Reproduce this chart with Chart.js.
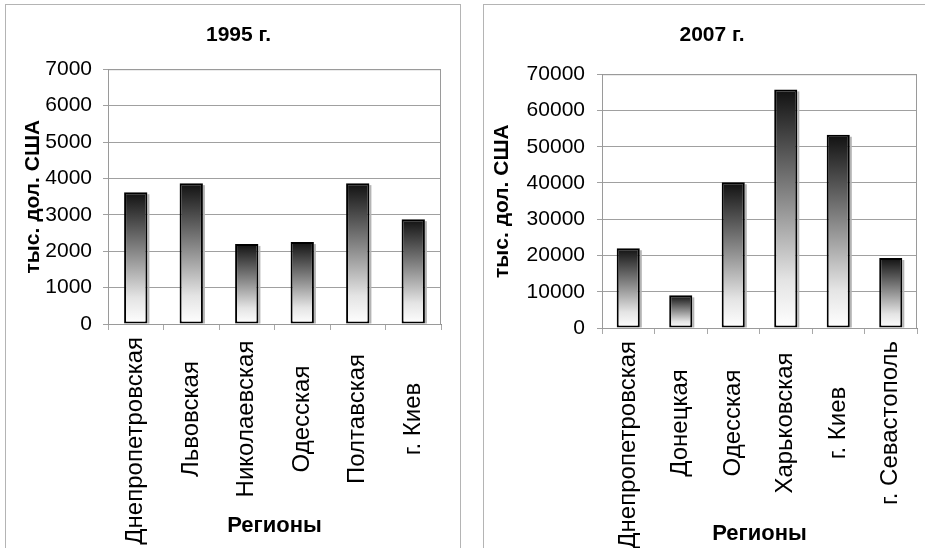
<!DOCTYPE html>
<html>
<head>
<meta charset="utf-8">
<script src="https://cdn.jsdelivr.net/npm/chart.js@4.4.0/dist/chart.umd.min.js"></script>
<style>
  html, body { margin: 0; padding: 0; background: #fff; width: 925px; height: 548px; overflow: hidden; }
  .panel { position: absolute; border: 1px solid #b4b4b4; box-sizing: border-box; background: #fff; }
  #p1 { left: 5px; top: 4px; width: 456px; height: 545px; }
  #p2 { left: 483px; top: 4px; width: 458px; height: 545px; }
</style>
</head>
<body>
<div class="panel" id="p1"><canvas id="chart1995"></canvas></div>
<div class="panel" id="p2"><canvas id="chart2007"></canvas></div>
<script>
// Data
const regions1995 = ['Днепропетровская', 'Львовская', 'Николаевская', 'Одесская', 'Полтавская', 'г. Киев'];
const values1995 = [3620, 3870, 2200, 2250, 3870, 2880];

const regions2007 = ['Днепропетровская', 'Донецкая', 'Одесская', 'Харьковская', 'г. Киев', 'г. Севастополь'];
const values2007 = [22000, 9000, 40200, 65800, 53300, 19300];

const yAxisLabel = 'тыс. дол. США';
const xAxisLabel = 'Регионы';

Chart.defaults.font.family = '"Liberation Sans", Arial, sans-serif';
Chart.defaults.color = '#000';

// Dark-to-white gradient for each bar, from its top down to zero
function barGradient(context) {
  const chart = context.chart;
  const y = chart.scales.y;
  if (!chart.chartArea || !y || context.raw === undefined) return '#888';
  const top = y.getPixelForValue(context.raw);
  const bottom = y.getPixelForValue(0);
  const g = chart.ctx.createLinearGradient(0, top, 0, bottom);
  g.addColorStop(0, '#111111');
  g.addColorStop(0.45, '#878787');
  g.addColorStop(0.8, '#e4e4e4');
  g.addColorStop(1, '#ffffff');
  return g;
}

// Plot frame plus the thin shadow strip on the right of each bar
const frameAndShadow = {
  id: 'frameAndShadow',
  beforeDatasetsDraw(chart) {
    const { ctx, chartArea: a } = chart;
    ctx.save();
    ctx.strokeStyle = '#9a9a9a';
    ctx.lineWidth = 1;
    ctx.strokeRect(a.left + 0.5, a.top + 0.5, a.right - a.left - 1, a.bottom - a.top);
    ctx.fillStyle = '#b4b4b4';
    chart.getDatasetMeta(0).data.forEach(bar => {
      const p = bar.getProps(['x', 'y', 'base', 'width'], true);
      ctx.fillRect(p.x + p.width / 2, p.y + 2, 2, p.base - p.y - 2);
    });
    ctx.restore();
  }
};

// Center the rotated category labels in a band under the axis (like Excel does)
const centerLabels = {
  id: 'centerLabels',
  beforeDraw(chart) {
    const scale = chart.scales.x;
    const ctx = chart.ctx;
    scale.getLabelItems(chart.chartArea).forEach(item => {
      ctx.font = item.font.string;
      const w = ctx.measureText(item.label).width;
      item.options.translation[1] = scale.top + Math.max(13, 95 - w / 2);
    });
  }
};

function makeChart(id, title, labels, values, cfg) {
  const ctx = document.getElementById(id).getContext('2d');
  return new Chart(ctx, {
    type: 'bar',
    data: {
      labels: labels,
      datasets: [{
        data: values,
        backgroundColor: barGradient,
        borderColor: '#000',
        borderWidth: 2,
        borderSkipped: false,
        barPercentage: cfg.barPct,
        categoryPercentage: 1
      }]
    },
    options: {
      responsive: true,
      maintainAspectRatio: false,
      animation: false,
      layout: { padding: { left: cfg.padLeft, right: cfg.padRight, top: 0, bottom: 0 } },
      plugins: {
        legend: { display: false },
        tooltip: { enabled: false },
        title: {
          display: true,
          text: title,
          color: '#000',
          font: { size: 21, weight: 'bold' },
          padding: { top: 18, bottom: cfg.titlePadBottom }
        }
      },
      scales: {
        x: {
          offset: true,
          grid: { offset: true, drawOnChartArea: false, drawTicks: true, tickLength: 6, color: '#a8a8a8' },
          border: { color: '#8c8c8c' },
          ticks: { autoSkip: false, minRotation: 90, maxRotation: 90, font: { size: 24 }, color: '#000', padding: 6 },
          title: {
            display: true,
            text: xAxisLabel,
            color: '#000',
            font: { size: 22, weight: 'bold' },
            padding: { top: 0, bottom: cfg.xTitlePad }
          },
          afterFit(scale) { scale.height = cfg.xHeight; }
        },
        y: {
          min: 0,
          max: cfg.max,
          grid: { color: '#a0a0a0', tickLength: 5 },
          border: { color: '#8c8c8c' },
          ticks: { stepSize: cfg.step, font: { size: 21 }, color: '#000', padding: cfg.tickPad, callback: v => v },
          title: {
            display: true,
            text: yAxisLabel,
            color: '#000',
            font: { size: 21, weight: 'bold' },
            padding: { top: cfg.yTitlePad, bottom: 0 }
          },
          afterFit(scale) { scale.width = cfg.yWidth; }
        }
      }
    },
    plugins: [frameAndShadow, centerLabels]
  });
}

makeChart('chart1995', '1995 г.', regions1995, values1995, {
  max: 7000, step: 1000, barPct: 0.42,
  padLeft: 30, padRight: 19, yWidth: 72, yTitlePad: -15, tickPad: 11,
  titlePadBottom: 21, xHeight: 224, xTitlePad: 9
});

makeChart('chart2007', '2007 г.', regions2007, values2007, {
  max: 70000, step: 10000, barPct: 0.44,
  padLeft: 23, padRight: 23, yWidth: 95, yTitlePad: -17, tickPad: 12,
  titlePadBottom: 26, xHeight: 220, xTitlePad: 1
});
</script>
</body>
</html>
